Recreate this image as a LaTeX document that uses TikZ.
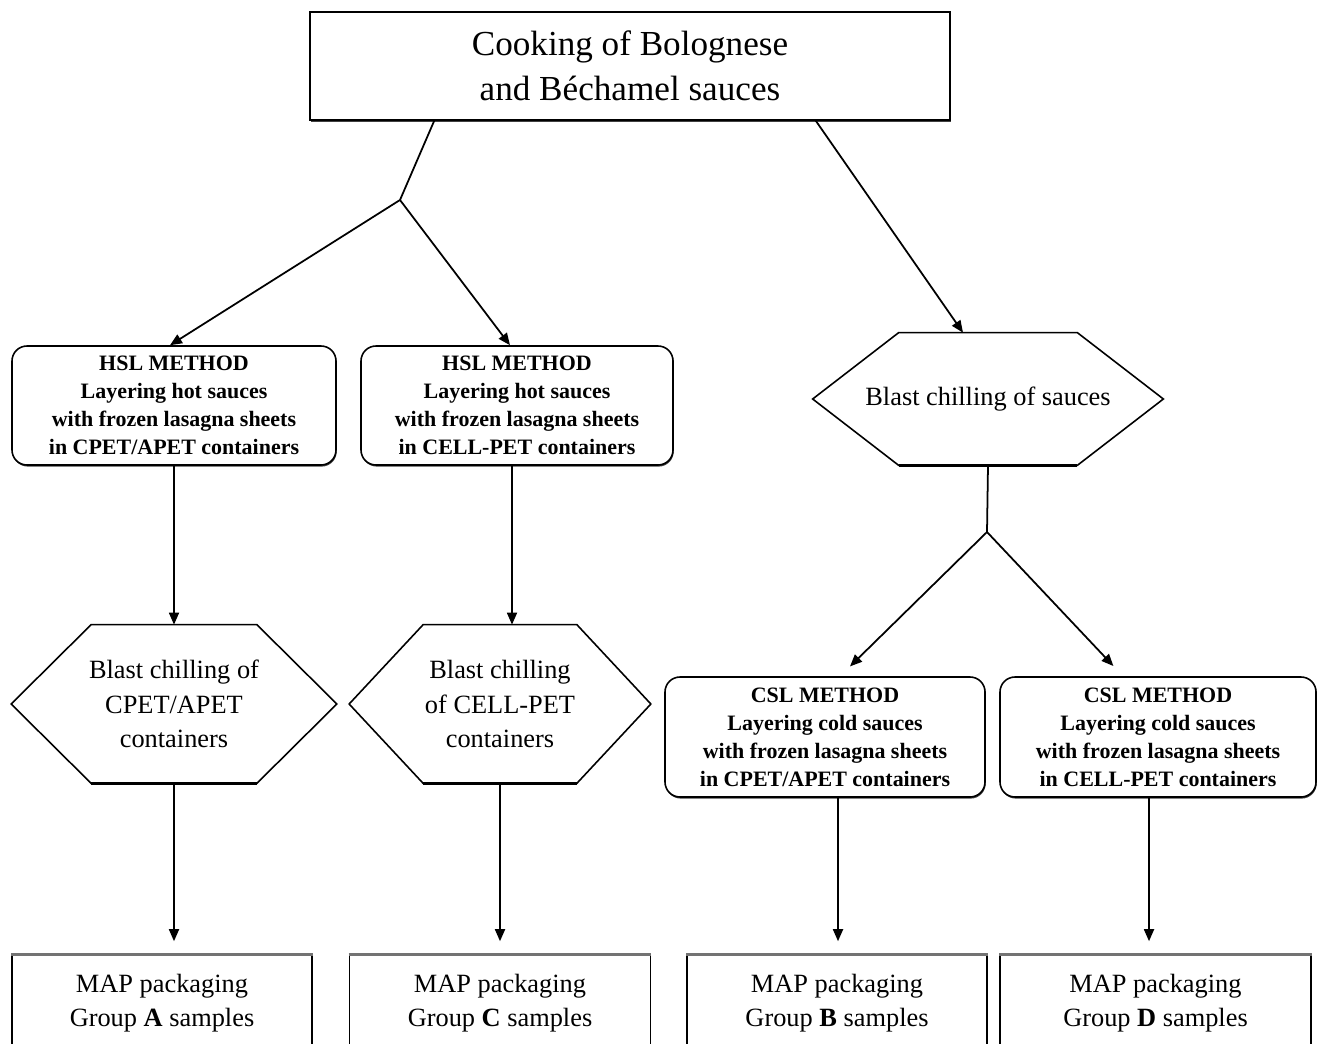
\documentclass[tikz,border=0pt]{standalone}
\usepackage{fontspec}
\setmainfont{Liberation Serif}
\usetikzlibrary{arrows.meta,shadows}

\begin{document}
\begin{tikzpicture}[
  box/.style={draw, line width=0.9pt, align=center, inner sep=0pt, fill=white},
  edgeshadow/.style={drop shadow={shadow xshift=0.4pt, shadow yshift=-0.9pt, opacity=1, fill=black!75}},
  methodbox/.style={box, edgeshadow, rounded corners=0.3cm, minimum height=2.38cm, font=\bfseries\fontsize{12.5}{15.9}\selectfont},
  hexbox/.style={align=center, inner sep=0pt, minimum height=3.16cm, font=\fontsize{15}{19.8}\selectfont},
  groupbox/.style={box, minimum height=1.92cm, font=\fontsize{15}{19.3}\selectfont},
  arr/.style={-{Triangle[length=0.24cm,width=0.2cm]}, line width=1pt},
  link/.style={line width=1pt}
]
\useasboundingbox (0,0) rectangle (26.36,-20.88);
\clip (0,0) rectangle (26.36,-20.88);

% Top box
\node[box, edgeshadow, minimum width=12.8cm, minimum height=2.16cm, font=\fontsize{20}{25.6}\selectfont] (cook) at (12.6,-1.32) {Cooking of Bolognese\\ and Béchamel sauces};

% Hot layering (HSL) branch
\coordinate (j1) at (8.0,-4.0);
\node[methodbox, minimum width=6.48cm] (hsl1) at (3.48,-8.11) {HSL METHOD\\Layering hot sauces\\with frozen lasagna sheets\\in CPET/APET containers};
\node[methodbox, minimum width=6.24cm] (hsl2) at (10.34,-8.11) {HSL METHOD\\Layering hot sauces\\with frozen lasagna sheets\\in CELL-PET containers};
\node[hexbox, minimum width=6.5cm] (hexa) at (3.48,-14.08) {Blast chilling of\\CPET/APET\\containers};
\node[hexbox, minimum width=6.02cm] (hexc) at (10.0,-14.08) {Blast chilling\\of CELL-PET\\containers};

% Cold layering (CSL) branch
\node[hexbox, minimum width=7.0cm, minimum height=2.64cm] (chill) at (19.76,-7.98) {Blast chilling of sauces};
\coordinate (j2) at (19.74,-10.64);
\node[methodbox, minimum width=6.4cm, minimum height=2.4cm] (csl1) at (16.5,-14.74) {CSL METHOD\\Layering cold sauces\\with frozen lasagna sheets\\in CPET/APET containers};
\node[methodbox, minimum width=6.32cm, minimum height=2.4cm] (csl2) at (23.16,-14.74) {CSL METHOD\\Layering cold sauces\\with frozen lasagna sheets\\in CELL-PET containers};

% Hexagon outlines
\foreach \h/\s in {hexa/1.6, hexc/1.48, chill/1.72} {
  \draw[line width=0.9pt, line join=miter] (\h.west) -- ([xshift=\s cm]\h.north west) -- ([xshift=-\s cm]\h.north east)
    -- (\h.east) -- ([xshift=-\s cm]\h.south east) -- ([xshift=\s cm]\h.south west) -- cycle;
  \draw[line width=1.6pt] ([xshift=\s cm, yshift=-0.3pt]\h.south west) -- ([xshift=-\s cm, yshift=-0.3pt]\h.south east);
}

% Packaging
\node[groupbox, minimum width=6.0cm] (grpA) at (3.24,-20.06) {MAP packaging\\Group \textbf{A} samples};
\node[groupbox, minimum width=6.02cm] (grpC) at (10.0,-20.06) {MAP packaging\\Group \textbf{C} samples};
\node[groupbox, minimum width=6.0cm] (grpB) at (16.74,-20.06) {MAP packaging\\Group \textbf{B} samples};
\node[groupbox, minimum width=6.22cm] (grpD) at (23.11,-20.06) {MAP packaging\\Group \textbf{D} samples};
\foreach \g in {grpA,grpC,grpB,grpD} {
  \draw[black!55, line width=1.6pt] (\g.north west) -- (\g.north east);
}

% Connectors
\draw[link] ([xshift=2.5cm]cook.south west) -- (j1);
\draw[arr] (j1) -- ([xshift=-0.08cm]hsl1.north);
\draw[arr] (j1) -- ([xshift=-0.14cm]hsl2.north);
\draw[arr] ([xshift=-2.7cm]cook.south east) -- ([xshift=-0.5cm]chill.north);
\draw[link] (chill.south) -- (j2);
\draw[arr, shorten >=0.28cm] (j2) -- ([xshift=0.3cm]csl1.north);
\draw[arr, shorten >=0.28cm] (j2) -- ([xshift=-0.7cm]csl2.north);
\draw[arr] (hsl1.south) -- (hsl1.south |- hexa.north);
\draw[arr] ([xshift=-0.1cm]hsl2.south) -- ([xshift=-0.1cm]hsl2.south |- hexc.north);
\draw[arr, shorten >=0.26cm] (hexa.south) -- (hexa.south |- grpA.north);
\draw[arr, shorten >=0.26cm] (hexc.south) -- (hexc.south |- grpC.north);
\draw[arr, shorten >=0.26cm] ([xshift=0.26cm]csl1.south) -- ([xshift=0.26cm]csl1.south |- grpB.north);
\draw[arr, shorten >=0.26cm] ([xshift=-0.18cm]csl2.south) -- ([xshift=-0.18cm]csl2.south |- grpD.north);
\end{tikzpicture}
\end{document}
